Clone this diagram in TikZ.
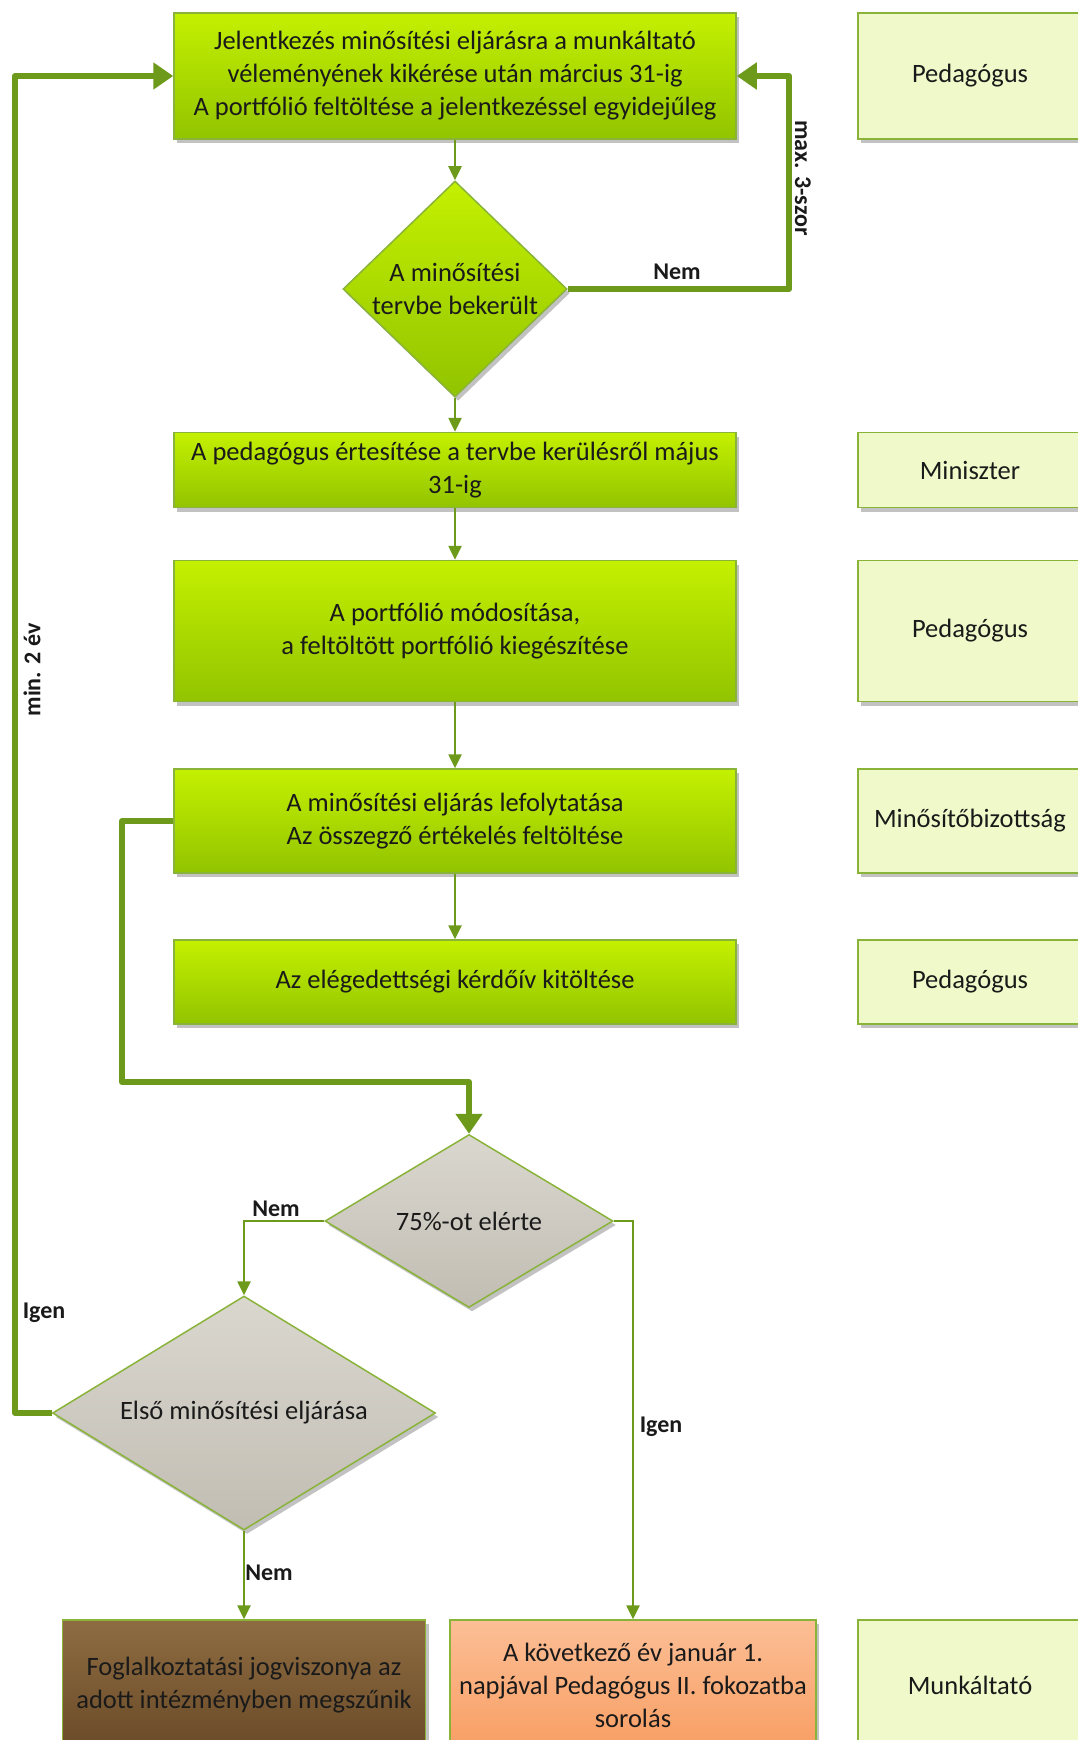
\documentclass[tikz,border=0pt]{standalone}
\usepackage{fontspec}
\setmainfont{Carlito}
\usetikzlibrary{shapes.geometric,arrows.meta,shadows}

\definecolor{lineolive}{HTML}{6E9A1C}
\definecolor{boxedge}{HTML}{8AB33A}
\definecolor{limetop}{HTML}{C4F000}
\definecolor{limebot}{HTML}{92C400}
\definecolor{palefill}{HTML}{F0F9C9}
\definecolor{graytop}{HTML}{DAD7CF}
\definecolor{graybot}{HTML}{C1BDB3}
\definecolor{browntop}{HTML}{8E6C42}
\definecolor{brownbot}{HTML}{6A4B28}
\definecolor{orangetop}{HTML}{FCBE95}
\definecolor{orangebot}{HTML}{F89E63}
\definecolor{inktext}{HTML}{1A1A1A}

\newcommand\flowfont{\fontsize{26.5}{33}\selectfont}
\newcommand\tagfont{\fontsize{24}{28}\selectfont\bfseries}

\tikzset{
  boxshadow/.style={drop shadow={shadow xshift=3pt, shadow yshift=-4pt, fill=black!40, opacity=0.6}},
  stepbox/.style={rectangle, draw=boxedge, line width=1.5pt, top color=limetop, bottom color=limebot,
    minimum width=562pt, align=center, inner sep=0pt, boxshadow, font=\flowfont, text=inktext},
  rolebox/.style={rectangle, draw=boxedge, line width=1.5pt, fill=palefill,
    minimum width=224pt, align=center, inner sep=0pt, boxshadow, font=\flowfont, text=inktext},
  dectext/.style={align=center, font=\flowfont, text=inktext, inner sep=0pt},
  decision/.style={diamond, draw=boxedge, line width=1.5pt, inner sep=0pt, boxshadow},
  greendec/.style={decision, top color=limetop, bottom color=limebot},
  graydec/.style={decision, top color=graytop, bottom color=graybot},
  endbox/.style={rectangle, draw=boxedge, line width=1.5pt, align=center, inner sep=0pt,
    minimum height=130pt, boxshadow, font=\flowfont, text=inktext},
  thinflow/.style={draw=lineolive, line width=2.5pt, -{Triangle[width=13pt,length=14pt]}},
  thickflow/.style={draw=lineolive, line width=6pt, line join=round, -{Triangle[width=26pt,length=20pt]}},
  flowtag/.style={font=\tagfont, inner sep=1pt, text=inktext},
}

\begin{document}
\begin{tikzpicture}[x=1pt, y=-1pt]
    \useasboundingbox (0,0) rectangle (1078,1740);

    \node[stepbox, minimum height=126pt] (jel) at (455,76)
        {Jelentkezés minősítési eljárásra a munkáltató\\véleményének kikérése után március 31-ig\\A portfólió feltöltése a jelentkezéssel egyidejűleg};
    \node[greendec, minimum width=224pt, minimum height=216pt,
        label={[dectext]center:A minősítési\\tervbe bekerült}] (terv) at (455,289) {};
    \node[stepbox, minimum height=75pt] (ertes) at (455,470)
        {A pedagógus értesítése a tervbe kerülésről május\\31-ig};
    \node[stepbox, minimum height=141pt] (modos) at (455,631)
        {A portfólió módosítása,\\a feltöltött portfólió kiegészítése};
    \node[stepbox, minimum height=104pt] (eljar) at (455,821)
        {A minősítési eljárás lefolytatása\\Az összegző értékelés feltöltése};
    \node[stepbox, minimum height=84pt] (eleg) at (455,982)
        {Az elégedettségi kérdőív kitöltése};

    \node[graydec, minimum width=288pt, minimum height=173pt,
        label={[dectext]center:75\%-ot elérte}] (hetot) at (469,1221) {};
    \node[graydec, minimum width=383pt, minimum height=234pt,
        label={[dectext]center:Első minősítési eljárása}] (elso) at (244,1413) {};

    \node[endbox, minimum width=363pt, top color=browntop, bottom color=brownbot] (megsz) at (244,1685)
        {Foglalkoztatási jogviszonya az\\adott intézményben megszűnik};
    \node[endbox, minimum width=366pt, top color=orangetop, bottom color=orangebot] (kovet) at (633,1685)
        {A következő év január 1.\\napjával Pedagógus II. fokozatba\\sorolás};

    \node[rolebox, minimum height=126pt] (r1) at (970,76) {Pedagógus};
    \node[rolebox, minimum height=75pt] (r2) at (970,470) {Miniszter};
    \node[rolebox, minimum height=141pt] (r3) at (970,631) {Pedagógus};
    \node[rolebox, minimum height=104pt] (r4) at (970,821) {Minősítőbizottság};
    \node[rolebox, minimum height=84pt] (r5) at (970,982) {Pedagógus};
    \node[rolebox, minimum height=130pt] (r6) at (970,1685) {Munkáltató};

    \coordinate (retr) at (789,76);
    \coordinate (retl) at (15,76);
    \coordinate (bend) at (122,1082);

    \draw[thinflow] (jel) -- (terv);
    \draw[thinflow] (terv) -- (ertes);
    \draw[thinflow] (ertes) -- (modos);
    \draw[thinflow] (modos) -- (eljar);
    \draw[thinflow] (eljar) -- (eleg);

    \draw[thickflow] (terv.east) -| (retr) -- (jel.east);
    \draw[thickflow] (elso.west) -| (retl) -- (jel.west);
    \draw[thickflow] (eljar.west) -| (bend) -| (hetot.north);

    \draw[thinflow] (hetot.west) -| (elso.north);
    \draw[thinflow] (hetot.east) -| (kovet.north);
    \draw[thinflow] (elso.south) -- (megsz);

    \node[flowtag] (nem1) at (677,272) {Nem};
    \node[flowtag, rotate=-90] (max3) at (803,178) {max. 3-szor};
    \node[flowtag, rotate=90] (min2) at (32,670) {min. 2 év};
    \node[flowtag] (igen1) at (44,1313) {Igen};
    \node[flowtag] (nem2) at (276,1209) {Nem};
    \node[flowtag] (igen2) at (661,1427) {Igen};
    \node[flowtag] (nem3) at (269,1573) {Nem};
\end{tikzpicture}
\end{document}
